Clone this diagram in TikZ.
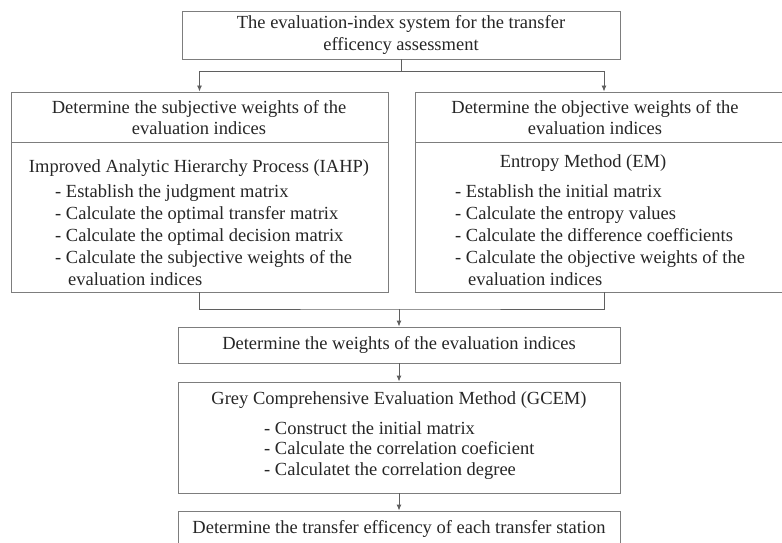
\documentclass[tikz,border=0pt]{standalone}
\usepackage{fontspec}
\setmainfont{Liberation Serif}
\usetikzlibrary{arrows.meta, positioning}
\definecolor{framegray}{RGB}{125,125,125}
\definecolor{linkgray}{RGB}{95,95,95}
\definecolor{textgray}{RGB}{38,38,38}
\tikzset{%
>={Latex[width=5pt,length=6pt]},
  % Specifications for style of nodes:
            frame/.style = {rectangle, draw=framegray, line width=0.9pt,
                            inner sep=0pt},
            txt/.style = {font=\fontsize{18.5}{21.5}\selectfont,
                            text=textgray, inner sep=0pt, align=center},
            steps/.style = {txt, font=\fontsize{18.5}{22}\selectfont,
                            align=left, anchor=north west},
            link/.style = {draw=linkgray, line width=0.9pt}
}

\begin{document}
\begin{tikzpicture}[x=1pt, y=-1pt]
\useasboundingbox (0,0) rectangle (782,543);

                % top box
                \node[frame, txt, minimum width=438pt, minimum height=48pt] (sys) at (401,35)
                    {The evaluation-index system for the transfer\\efficency assessment};

                % subjective weights
                \node[frame, minimum width=377pt, minimum height=50pt] (subj) at (199.5,117) {};
                \node[txt] (subjtxt) at (199,117.5) {Determine the subjective weights of the\\evaluation indices};
                \node[frame, minimum width=377pt, minimum height=150pt] (iahp) at (199.5,217) {};
                \node[txt] (iahptitle) at (199,168) {Improved Analytic Hierarchy Process (IAHP)};
                \node[steps] (iahpsteps) at (55,184) {- Establish the judgment matrix\\
                    - Calculate the optimal transfer matrix\\
                    - Calculate the optimal decision matrix\\
                    - Calculate the subjective weights of the\\
                    \hspace*{13pt}evaluation indices};

                % objective weights
                \node[frame, minimum width=378pt, minimum height=50pt] (obj) at (604,117) {};
                \node[txt] (objtxt) at (595,117.5) {Determine the objective weights of the\\evaluation indices};
                \node[frame, minimum width=378pt, minimum height=150pt] (em) at (604,217) {};
                \node[txt] (emtitle) at (583,163) {Entropy Method (EM)};
                \node[steps] (emsteps) at (455,184) {- Establish the initial matrix\\
                    - Calculate the entropy values\\
                    - Calculate the difference coefficients\\
                    - Calculate the objective weights of the\\
                    \hspace*{13pt}evaluation indices};

                % lower column
                \node[frame, txt, minimum width=442pt, minimum height=36pt] (wts) at (399,345)
                    {Determine the weights of the evaluation indices};
                \node[frame, minimum width=442pt, minimum height=111pt] (gcem) at (399,437.5) {};
                \node[txt] (gcemtitle) at (399,400) {Grey Comprehensive Evaluation Method (GCEM)};
                \node[steps, font=\fontsize{18.5}{20.5}\selectfont] (gcemsteps) at (264,421)
                    {- Construct the initial matrix\\
                    - Calculate the correlation coeficient\\
                    - Calculatet the correlation degree};
                \node[frame, txt, minimum width=442pt, minimum height=36pt] (eff) at (399,529)
                    {Determine the transfer efficency of each transfer station};

                % connectors
                \coordinate (fork) at (401,71);
                \coordinate (join) at (399,309);
                \draw[link] (sys.south) -- (fork);
                \draw[link, ->] (fork) -| (subj.north);
                \draw[link, ->] (fork) -| (obj.north);
                \draw[link] (iahp.south) |- (join) -| (em.south);
                \draw[link, ->] (join) -- (wts.north);
                \draw[link, ->] (wts) -- (gcem);
                \draw[link, ->] (gcem) -- (eff);

\end{tikzpicture}
\end{document}
